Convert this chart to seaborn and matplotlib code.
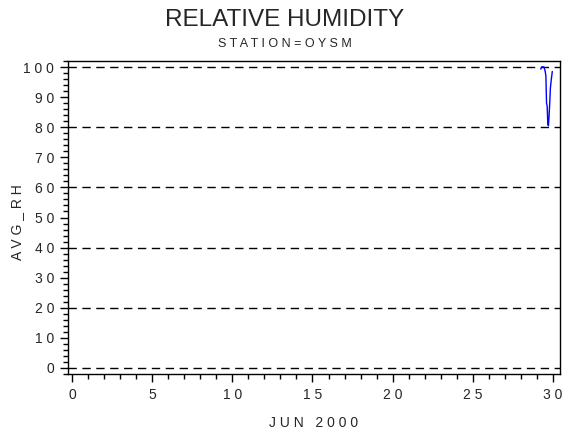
import numpy as np
import pandas as pd
import matplotlib
matplotlib.use('Agg')
import matplotlib.pyplot as plt
import seaborn as sns
from matplotlib.ticker import MultipleLocator

# day of June 2000 (fractional) and average relative humidity
days = [29.24, 29.30, 29.36, 29.44, 29.52, 29.56, 29.60, 29.64, 29.68,
        29.72, 29.76, 29.80, 29.84, 29.90, 29.96]
avg_rh = [99.3, 100.0, 100.1, 100.0, 98.5, 97.0, 88.0, 87.0, 81.0,
          80.5, 84.0, 88.0, 93.0, 96.0, 98.5]

x_ticks = [0, 5, 10, 15, 20, 25, 30]
y_ticks = [0, 10, 20, 30, 40, 50, 60, 70, 80, 90, 100]
grid_vals = [0, 20, 40, 60, 80, 100]

df = pd.DataFrame({"day": days, "AVG_RH": avg_rh})

sns.set_style("ticks")
plt.rcParams['font.family'] = ['Liberation Sans', 'DejaVu Sans']

fig = plt.figure(figsize=(5.7, 4.3), dpi=100)
ax = fig.add_axes([68/570, 1-374/430, (560-68)/570, (374-61)/430])

for g in grid_vals:
    ax.axhline(g, color="black", lw=1, ls=(0, (6, 4)), zorder=1)

sns.lineplot(data=df, x="day", y="AVG_RH", color="#0000FF", lw=1, ax=ax, zorder=3)

ax.set_xlim(-0.25, 30.44)
ax.set_ylim(-2, 102)
ax.set_xticks(x_ticks)
ax.set_yticks(y_ticks)
ax.xaxis.set_minor_locator(MultipleLocator(1))
ax.yaxis.set_minor_locator(MultipleLocator(2))
ax.tick_params(which="major", length=6, width=1, color="black", labelsize=10, pad=4)
ax.tick_params(which="minor", length=3.5, width=1, color="black")
for s in ax.spines.values():
    s.set_linewidth(1)
    s.set_color("black")

ax.set_xlabel("J U N   2 0 0 0", fontsize=10, labelpad=10)
ax.set_ylabel("")
ax.set_xticklabels([" ".join(str(t)) for t in x_ticks])
ax.set_yticklabels([" ".join(str(t)) for t in y_ticks])

fig.text(17/570, 1-222/430, "A V G _ R H", ha="center", va="center",
         rotation=90, fontsize=10)
fig.text(285/570, 1-20/430, "RELATIVE HUMIDITY", ha="center", va="center", fontsize=17.5)
fig.text(285/570, 1-44/430, "S T A T I O N = O Y S M", ha="center", va="center", fontsize=9)

fig.savefig("out.png", dpi=100)
